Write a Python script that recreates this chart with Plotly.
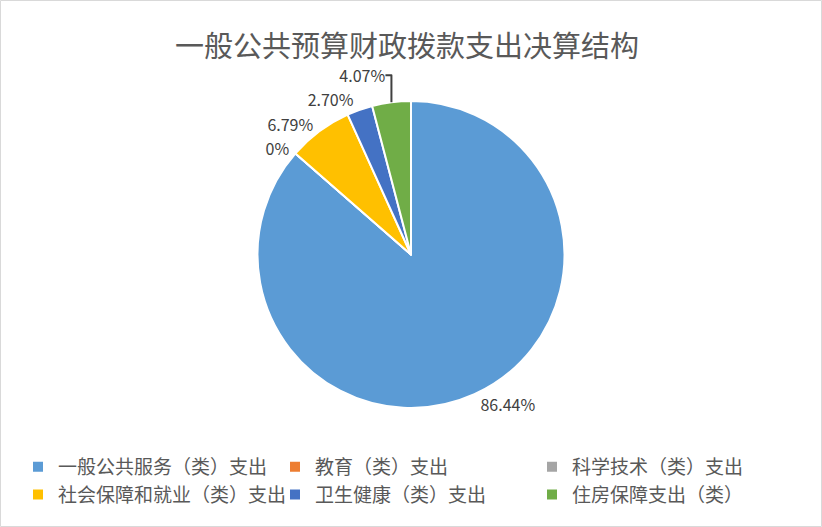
import plotly.graph_objects as go

# 支出类别及占比（%）
categories = ["一般公共服务（类）支出", "教育（类）支出", "科学技术（类）支出",
              "社会保障和就业（类）支出", "卫生健康（类）支出", "住房保障支出（类）"]
shares = [86.44, 0, 0, 6.79, 2.70, 4.07]
labels_txt = ["86.44%", "0%", "", "6.79%", "2.70%", "4.07%"]
colors = ["#5B9BD5", "#ED7D31", "#A5A5A5", "#FFC000", "#4472C4", "#70AD47"]

W, H = 822, 527

fig = go.Figure(go.Pie(
    labels=categories,
    values=shares,
    text=labels_txt,
    textinfo="text",
    textposition="outside",
    sort=False,
    direction="clockwise",
    rotation=0,
    domain=dict(x=[0.1, 0.9], y=[(H - 408) / H, (H - 101) / H]),
    marker=dict(colors=colors, line=dict(color="white", width=2)),
    textfont=dict(size=16, color="#404040", family="Noto Sans CJK SC"),
    hoverinfo="label+percent",
))

fig.update_layout(
    width=W, height=H,
    margin=dict(l=0, r=0, t=0, b=0, autoexpand=False),
    paper_bgcolor="white",
    font=dict(family="Noto Sans CJK SC", color="#595959"),
    title=dict(text="一般公共预算财政拨款支出决算结构", x=407 / W, xanchor="center",
               y=1 - 47 / H, yanchor="middle",
               font=dict(size=29, color="#595959")),
    legend=dict(orientation="h", x=18 / W, xanchor="left", y=1 - 448 / H, yanchor="top",
                entrywidth=212, entrywidthmode="pixels",
                font=dict(size=19, color="#595959"),
                traceorder="normal"),
    shapes=[dict(type="rect", xref="paper", yref="paper",
                 x0=0.5 / W, x1=1 - 0.5 / W, y0=0.5 / H, y1=1 - 0.5 / H,
                 line=dict(color="#D9D9D9", width=1))],
)

# 去掉页面默认边距，使图表贴齐窗口
fig.write_html("out.html", config={"displayModeBar": False},
               post_script="document.body.style.margin='0';")
